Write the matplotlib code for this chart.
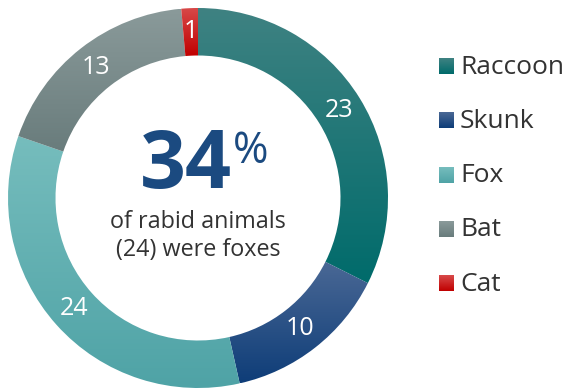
import matplotlib.pyplot as plt
import numpy as np
from matplotlib.colors import LinearSegmentedColormap

# Datos
animales = ['Raccoon', 'Skunk', 'Fox', 'Bat', 'Cat']
casos = [23, 10, 24, 13, 1]
porcentaje_texto = '34'
subtitulo = 'of rabid animals\n(24) were foxes'

# Colores (arriba claro -> abajo oscuro)
colores_claros = ['#3f8282', '#4a6895', '#76bdbd', '#8a9a9a', '#d84a4a']
colores_oscuros = ['#006b6b', '#0e3d78', '#4fa3a6', '#697c7c', '#c00000']

plt.rcParams['font.family'] = ['Open Sans', 'DejaVu Sans']

fig = plt.figure(figsize=(5.67, 3.9), dpi=100)

# Ejes del donut
ax = fig.add_axes([8 / 567, 2 / 390, 380 / 567, 380 / 390])
wedges, textos = ax.pie(casos, startangle=90, counterclock=False,
                        radius=1.0, wedgeprops=dict(width=0.25, linewidth=0),
                        labels=[str(c) for c in casos], labeldistance=0.875,
                        textprops=dict(color='white', fontsize=18))
for t in textos:
    t.set_ha('center')
    t.set_va('center')
    t.set_zorder(5)

# Degradado vertical dentro de cada sector
for w, c1, c2 in zip(wedges, colores_claros, colores_oscuros):
    bb = w.get_path().get_extents()
    cmap = LinearSegmentedColormap.from_list('g', [c2, c1])
    grad = np.linspace(0, 1, 256).reshape(-1, 1)
    im = ax.imshow(grad, cmap=cmap, origin='lower', aspect='auto',
                   extent=[bb.x0, bb.x1, bb.y0, bb.y1], zorder=1)
    im.set_clip_path(w)
    w.set_alpha(0)
ax.set_xlim(-1, 1)
ax.set_ylim(-1, 1)
ax.set_aspect('equal')
ax.axis('off')

# Texto central
ax.text(0.18, 0.053, porcentaje_texto, ha='right', va='baseline', fontsize=58,
        fontweight='bold', color='#1b4a80')
ax.text(0.184, 0.184, '%', ha='left', va='baseline', fontsize=31,
        color='#1b4a80')
ax.text(0.0, -0.065, subtitulo, ha='center', va='top', fontsize=16.8,
        color='#333333', linespacing=1.18)

# Leyenda manual con cuadrados en degradado
ax_ley = fig.add_axes([0, 0, 1, 1])
ax_ley.axis('off')
y0, paso = 66, 54.3
for i, (nombre, c1, c2) in enumerate(zip(animales, colores_claros, colores_oscuros)):
    y = y0 + i * paso
    cmap = LinearSegmentedColormap.from_list('g', [c1, c2])
    grad = np.linspace(0, 1, 64).reshape(-1, 1)
    ax_ley.imshow(grad, cmap=cmap, origin='upper', aspect='auto',
                  extent=[439, 454, y + 8, y - 8])
    ax_ley.text(460, y + 1, nombre, ha='left', va='center', fontsize=19, color='#333333')
ax_ley.set_xlim(0, 567)
ax_ley.set_ylim(390, 0)

fig.savefig('out.png', dpi=100)
